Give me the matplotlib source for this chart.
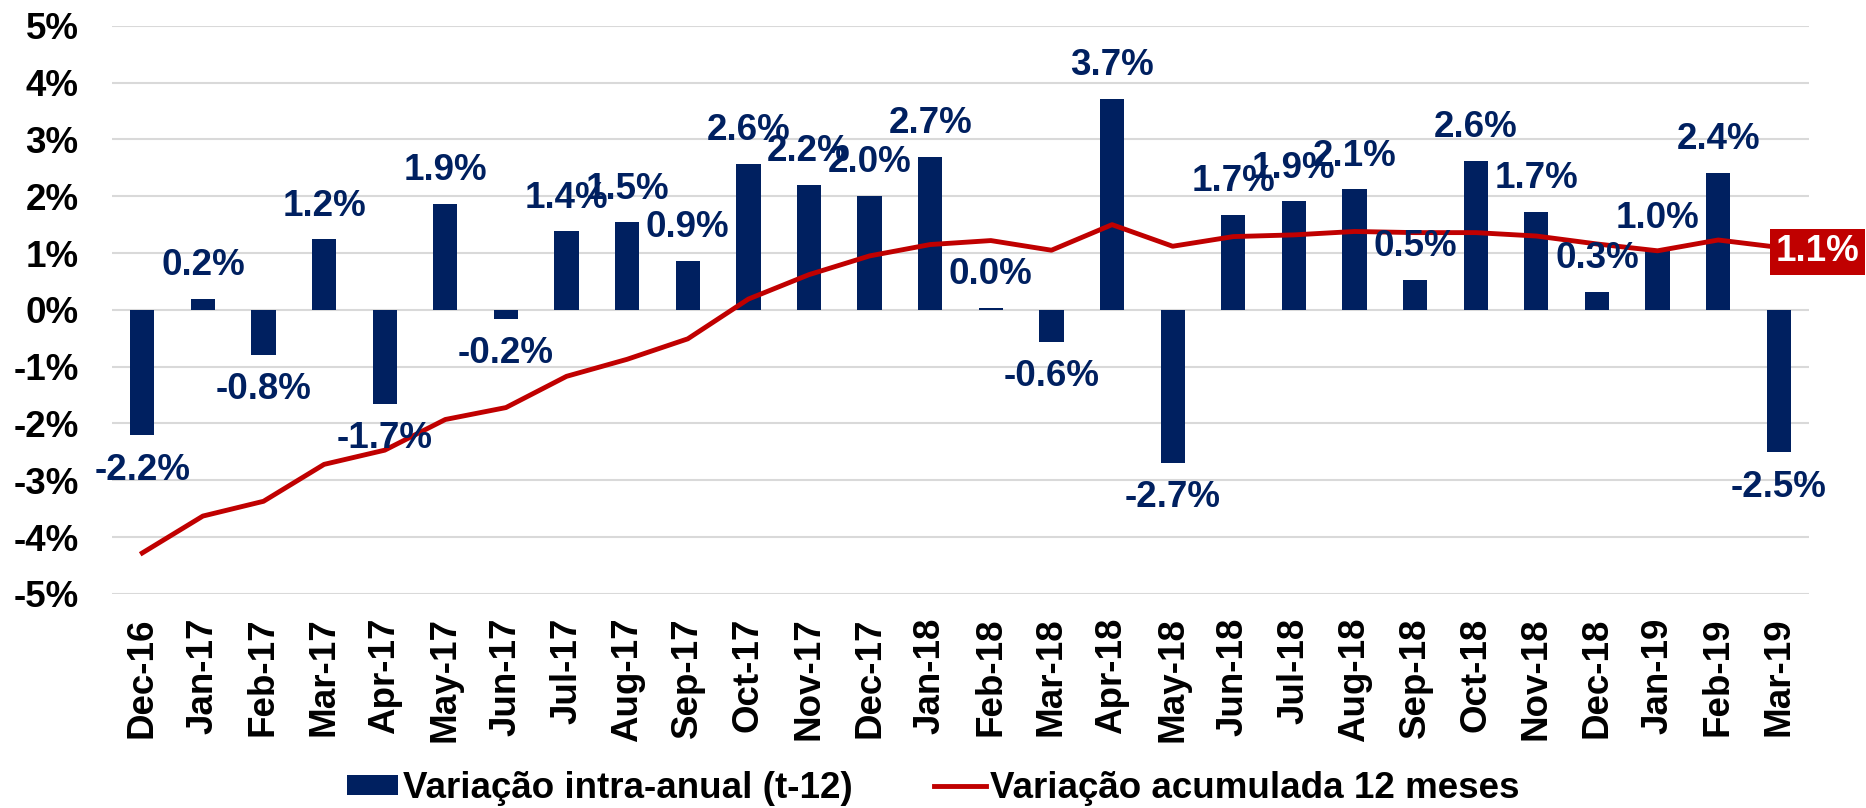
import numpy as np
import matplotlib
matplotlib.use("Agg")
import matplotlib.pyplot as plt

# data
months = ["Dec-16", "Jan-17", "Feb-17", "Mar-17", "Apr-17", "May-17", "Jun-17",
          "Jul-17", "Aug-17", "Sep-17", "Oct-17", "Nov-17", "Dec-17", "Jan-18",
          "Feb-18", "Mar-18", "Apr-18", "May-18", "Jun-18", "Jul-18", "Aug-18",
          "Sep-18", "Oct-18", "Nov-18", "Dec-18", "Jan-19", "Feb-19", "Mar-19"]

intra_anual = [-2.21, 0.20, -0.79, 1.24, -1.66, 1.87, -0.16, 1.38, 1.54, 0.86,
               2.57, 2.20, 2.00, 2.69, 0.04, -0.57, 3.72, -2.69, 1.67, 1.91,
               2.12, 0.53, 2.62, 1.72, 0.32, 1.03, 2.41, -2.51]

acumulada = [-4.28, -3.63, -3.37, -2.72, -2.47, -1.93, -1.72, -1.17, -0.87, -0.51,
             0.19, 0.62, 0.95, 1.15, 1.22, 1.05, 1.50, 1.12, 1.29, 1.32,
             1.38, 1.36, 1.36, 1.30, 1.16, 1.04, 1.23, 1.10]

yticks = [-5, -4, -3, -2, -1, 0, 1, 2, 3, 4, 5]

navy = "#002060"
red = "#C00000"
fs = 26.5

plt.rcParams["font.family"] = ["Liberation Sans", "DejaVu Sans"]
plt.rcParams["font.weight"] = "bold"

fig = plt.figure(figsize=(18.66, 8.08), dpi=100)
ax = fig.add_axes([0.060, 0.265, 0.9095, 0.703])

x = np.arange(len(months))

# Create bars and line
bars = ax.bar(x, intra_anual, width=0.40, color=navy, zorder=2,
              label="Variação intra-anual (t-12)")
line, = ax.plot(x, acumulada, color=red, linewidth=3.5, zorder=3,
                label="Variação acumulada 12 meses")

# bar labels (overlaps kept as in the original)
for xi, v in zip(x, intra_anual):
    dy = 24 if v >= 0 else -25
    ax.annotate(f"{v:.1f}%", (xi, v), xytext=(0, dy), textcoords="offset points",
                ha="center", va="center", fontsize=fs, fontweight="bold",
                color=navy, zorder=4)

# last value of the line
ax.annotate(f"{acumulada[-1]:.1f}%", (x[-1], acumulada[-1]), xytext=(-2, -3),
            textcoords="offset points", ha="left", va="center", fontsize=fs,
            fontweight="bold", color="white", zorder=5, annotation_clip=False,
            bbox=dict(boxstyle="square,pad=0.15", fc=red, ec="none"))

ax.set_xlim(-0.5, len(months) - 0.5)
ax.set_ylim(-5, 5)
ax.set_yticks(yticks)
ax.set_yticklabels([f"{t}%" for t in yticks], fontsize=fs, fontweight="bold")
ax.set_xticks(x)
ax.set_xticklabels(months, rotation=90, fontsize=fs, fontweight="bold")
ax.tick_params(axis="y", length=0, pad=24)
ax.tick_params(axis="x", length=0, pad=17)

ax.grid(True, axis="y", color="#D9D9D9", linewidth=1.5, zorder=0)
ax.set_axisbelow(True)
for s in ax.spines.values():
    s.set_visible(False)

fig.legend(handles=[bars, line], loc="center", bbox_to_anchor=(0.5, 0.024), ncol=2,
           frameon=False, handlelength=1.41, handleheight=0.49, handletextpad=0.12,
           columnspacing=2.2, prop={"weight": "bold", "size": fs})

fig.savefig("out.png", dpi=100)
